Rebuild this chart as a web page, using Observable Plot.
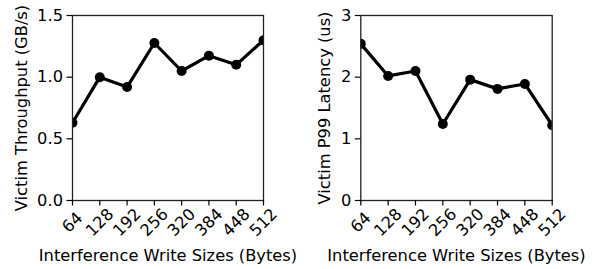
<!DOCTYPE html>
<html><head><meta charset="utf-8">
<script src="https://cdn.jsdelivr.net/npm/d3@7"></script>
<script src="https://cdn.jsdelivr.net/npm/@observablehq/plot@0.6"></script>
<style>
body{margin:0;background:#fff;}
#wrap{position:relative;width:594px;height:269px;}
#wrap svg{position:absolute;top:0;font-family:"DejaVu Sans",sans-serif;}
</style></head>
<body><div id="wrap"></div>
<script>
const sizes = [64, 128, 192, 256, 320, 384, 448, 512];
const throughput = [0.63, 1.0, 0.92, 1.277, 1.05, 1.174, 1.10, 1.30];
const latency = [2.54, 2.02, 2.10, 1.24, 1.96, 1.81, 1.89, 1.22];
const throughputTicks = [0, 0.5, 1.0, 1.5];
const latencyTicks = [0, 1, 2, 3];
const xLabel = "Interference Write Sizes (Bytes)";
const yLabels = ["Victim Throughput (GB/s)", "Victim P99 Latency (us)"];
const FS = 16.3;

function chart(values, yDomain, yTicks, yFmt, yLabel, labelDx, mL, mR) {
  const data = sizes.map((s, i) => ({x: s, y: values[i]}));
  return Plot.plot({
    width: 297, height: 269,
    marginLeft: mL, marginRight: mR, marginTop: 15, marginBottom: 69,
    style: {fontFamily: "DejaVu Sans, sans-serif", fontSize: FS + "px", color: "#000", background: "transparent"},
    x: {type: "linear", domain: [64, 512]},
    y: {domain: yDomain},
    marks: [
      Plot.line(data, {x: "x", y: "y", stroke: "#000", strokeWidth: 3.2, clip: true}),
      Plot.dot(data, {x: "x", y: "y", r: 5, fill: "#000", stroke: "none", clip: true}),
      Plot.frame({stroke: "#222", strokeWidth: 1.3}),
      Plot.axisY({ticks: yTicks, tickFormat: yFmt, tickSize: 5.5, tickPadding: 4, strokeWidth: 1.2, label: null, fontSize: FS}),
      Plot.axisX({ticks: sizes, tickFormat: () => "", tickSize: 5.5, strokeWidth: 1.2, label: null}),
      Plot.text(sizes, {x: d => d, text: d => String(d), frameAnchor: "bottom", rotate: -45, textAnchor: "middle", lineAnchor: "middle", dy: 22, fontSize: FS}),
      Plot.text([xLabel], {text: d => d, frameAnchor: "bottom", dy: 55, fontSize: FS, lineAnchor: "middle", textAnchor: "middle"}),
      Plot.text([yLabel], {text: d => d, frameAnchor: "left", rotate: -90, dx: labelDx, fontSize: FS, lineAnchor: "middle", textAnchor: "middle"})
    ]
  });
}

const wrap = document.getElementById("wrap");
const a = chart(throughput, [0, 1.5], throughputTicks, d3.format(".1f"), yLabels[0], -51, 72, 34);
a.style.left = "0px";
const b = chart(latency, [0, 3], latencyTicks, d3.format("d"), yLabels[1], -36, 63.3, 42.3);
b.style.left = "297px";
wrap.appendChild(a);
wrap.appendChild(b);
</script></body></html>
